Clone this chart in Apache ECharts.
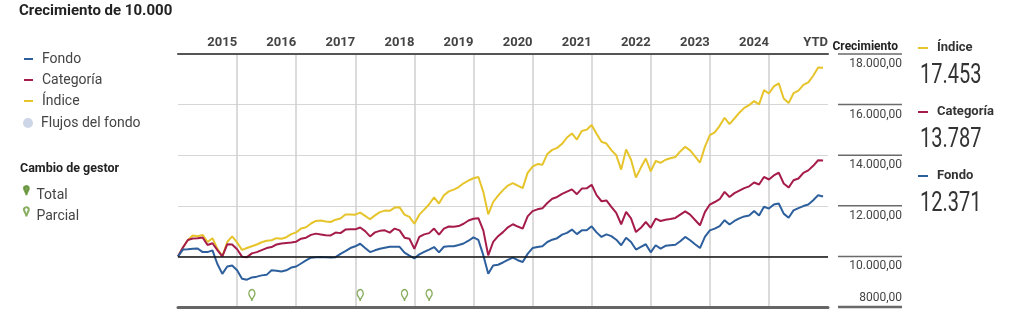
<!DOCTYPE html>
<html>
<head>
<meta charset="utf-8">
<script src="https://cdn.jsdelivr.net/npm/echarts@6/dist/echarts.min.js"></script>
<style>
  html, body { margin: 0; padding: 0; background: #fff; }
  #chart { width: 1024px; height: 327px; }
</style>
</head>
<body>
<div id="chart"></div>
<script>
// monthly growth of 10.000, month 0 = start of 2015
const yearLabels = ['2015', '2016', '2017', '2018', '2019', '2020', '2021', '2022', '2023', '2024', 'YTD'];

const fondo = [
  10000, 10270, 10280, 10300, 10310, 10170, 10170, 10240, 9700, 9310, 9600, 9640,
  9450, 9120, 9080, 9170, 9200, 9250, 9270, 9450, 9430, 9400, 9450, 9560,
  9600, 9720, 9840, 9950, 9970, 9980, 9970, 9960, 9970, 10100, 10210, 10330,
  10400, 10500, 10330, 10170, 10240, 10300, 10340, 10380, 10380, 10380, 10150, 10030,
  9920, 10080, 10180, 10270, 10370, 10160, 10380, 10400, 10400, 10450, 10510, 10620,
  10750, 10650, 10050, 9310, 9640, 9670, 9760, 9860, 9950, 9850, 9780, 10100,
  10330, 10370, 10400, 10570, 10660, 10720, 10860, 10930, 11060, 10880, 11030, 11030,
  11190, 10950, 10770, 10870, 10800, 10660, 10440, 10740, 10570, 10270, 10380, 10480,
  10160, 10440, 10310, 10420, 10440, 10460, 10600, 10770, 10640, 10480, 10330, 10770,
  11030, 11100, 11200, 11430, 11260, 11400, 11500, 11580, 11620, 11790, 11620, 11960,
  11890, 12050, 12090, 11690, 11530, 11820, 11910, 11990, 12050, 12220, 12420, 12371
];

const categoria = [
  10000, 10350, 10650, 10710, 10720, 10750, 10450, 10520, 10250, 10000, 10480, 10470,
  10280, 9990, 9970, 10120, 10170, 10250, 10330, 10370, 10470, 10510, 10530, 10550,
  10580, 10700, 10740, 10850, 10900, 10870, 10840, 10830, 10940, 10920, 11060, 11070,
  11070, 11140, 11000, 10790, 10950, 11010, 11030, 10940, 11100, 11030, 10740, 10700,
  10300, 10770, 10870, 10920, 11100, 10860, 11100, 11180, 11170, 11200, 11290, 11420,
  11490, 11510, 11030, 10040, 10570, 10800, 10960, 11150, 11270, 11180, 11100, 11580,
  11790, 11860, 11900, 12110, 12280, 12350, 12470, 12560, 12650, 12460, 12680, 12690,
  12830, 12420, 12180, 12210, 11960, 11720, 11270, 11760, 11500, 10960, 11130, 11360,
  11130, 11490, 11400, 11450, 11480, 11520, 11650, 11780, 11650, 11440, 11230, 11750,
  12050, 12150, 12260, 12550, 12350, 12500, 12600, 12700, 12770, 12920, 12840, 13140,
  13040, 13200, 13310, 12880, 12720, 13010, 13080, 13300, 13400, 13580, 13800, 13787
];

const indice = [
  10000, 10350, 10650, 10830, 10800, 10850, 10570, 10720, 10300, 10000, 10570, 10790,
  10550, 10260, 10330, 10400, 10470, 10560, 10620, 10640, 10720, 10700, 10760, 10880,
  10950, 11100, 11150, 11300, 11400, 11420, 11380, 11360, 11450, 11500, 11660, 11660,
  11650, 11730, 11600, 11470, 11620, 11750, 11810, 11800, 11930, 11940, 11650, 11560,
  11290, 11650, 11850, 12060, 12330, 12090, 12420, 12570, 12640, 12740, 12890, 13000,
  13090, 13140, 12550, 11660, 12150, 12400, 12620, 12800, 12900, 12800, 12700, 13300,
  13550, 13650, 13620, 14050, 14210, 14290, 14450, 14700, 14860, 14620, 14960, 15010,
  15190, 14850, 14530, 14460, 14200, 14000, 13430, 14230, 13820, 13120, 13510, 13870,
  13360, 13770, 13700, 13820, 13880, 13930, 14150, 14330, 14190, 13950, 13710, 14330,
  14790, 14900, 15160, 15480, 15230, 15450, 15680, 15870, 15980, 16140, 16010, 16570,
  16440, 16720, 16840, 16240, 16060, 16450, 16550, 16780, 16880, 17140, 17470, 17453
];

// months with a partial manager change
const parcialMonths = [15, 37, 46, 51];
const pinLevel = 8240;

// y scale
const Y_MIN = 8000, Y_MAX = 18000, Y_STEP = 2000;

const FONT = "'Liberation Sans Narrow', 'Roboto', sans-serif";
const C_FONDO = '#2d5f9d';
const C_CAT = '#a51c4b';
const C_IND = '#e6c42c';
const C_GREEN = '#6a9a38';

function thousands(v) {
  return String(Math.round(v)).replace(/\B(?=(\d{3})+(?!\d))/g, '.');
}
function axisFmt(v) {
  return (v >= 10000 ? thousands(v) : String(v)) + ',00';
}
const toPts = arr => arr.map((v, i) => [i, v]);
const last = arr => arr[arr.length - 1];

// big end values on the right, squeezed a bit to look condensed
function valueText(v, y) {
  return {
    type: 'text', x: 920, y: y, scaleX: 0.74,
    style: { text: thousands(v), fontSize: 27, fontFamily: FONT, fill: '#333', verticalAlign: 'top' }
  };
}
const valueTexts = [
  valueText(last(indice), 63),
  valueText(last(categoria), 127),
  valueText(last(fondo), 191)
];

const chart = echarts.init(document.getElementById('chart'));

const legendText = { fontSize: 14, lineHeight: 14, color: '#444', fontFamily: FONT };
const yRange = { type: 'value', min: Y_MIN, max: Y_MAX, interval: Y_STEP };
const GRID = { left: 178, right: 196, top: 54, bottom: 20 };

const option = {
  animation: false,
  textStyle: { fontFamily: FONT },
  title: [
    { text: 'Crecimiento de 10.000', left: 19, top: 4, padding: 0,
      textStyle: { fontSize: 15, fontWeight: 'bold', color: '#222', fontFamily: FONT } },
    { text: 'Cambio de gestor', left: 20, top: 162, padding: 0,
      textStyle: { fontSize: 12.5, fontWeight: 'bold', color: '#222', fontFamily: FONT } },
    { text: 'Crecimiento', right: 121, top: 36,
      textStyle: { fontSize: 12, fontWeight: 'bold', color: '#222', fontFamily: FONT } }
  ],
  graphic: { elements: valueTexts },
  legend: [
    { data: ['Fondo', 'Categoría', 'Índice'], orient: 'vertical', left: 24, top: 52, padding: 0,
      icon: 'rect', itemWidth: 9, itemHeight: 2, itemGap: 7, selectedMode: false,
      textStyle: Object.assign({ padding: [0, 0, 0, 4] }, legendText) },
    { data: ['Flujos del fondo'], orient: 'vertical', left: 23, top: 116, padding: 0,
      icon: 'circle', itemWidth: 10, itemHeight: 10, selectedMode: false,
      textStyle: Object.assign({ padding: [0, 0, 0, 3] }, legendText) },
    { data: ['Total', 'Parcial'], orient: 'vertical', left: 23, top: 185, padding: 0,
      icon: 'pin', itemWidth: 8, itemHeight: 10, itemGap: 4, selectedMode: false,
      textStyle: Object.assign({ padding: [0, 0, 0, 1] }, legendText) },
    { data: ['Índice', 'Categoría', 'Fondo'], orient: 'vertical', left: 918, top: 41, padding: 0,
      icon: 'rect', itemWidth: 10, itemHeight: 2, itemGap: 50, selectedMode: false,
      textStyle: { fontSize: 13, lineHeight: 14, fontWeight: 'bold', color: '#333', fontFamily: FONT, padding: [0, 0, 0, 4] } }
  ],
  grid: GRID,
  xAxis: [
    {
      type: 'value', position: 'top', min: 0, max: 132, interval: 12,
      axisLine: { show: true, onZero: false, lineStyle: { color: '#555', width: 2 } },
      axisTick: { show: false },
      axisLabel: {
        formatter: v => (v === 0 ? '' : yearLabels[v / 12 - 1]),
        align: 'right', margin: 5, fontSize: 13, fontWeight: 'bold', color: '#444', fontFamily: FONT
      },
      splitLine: { show: true, showMinLine: false, showMaxLine: false, lineStyle: { color: '#cfcfcf', width: 1.5 } }
    },
    {
      type: 'value', position: 'bottom', min: 0, max: 132,
      axisLine: { show: true, onZero: false, lineStyle: { color: '#666', width: 3 } },
      axisTick: { show: false }, axisLabel: { show: false }, splitLine: { show: false }
    }
  ],
  yAxis: [
    Object.assign({}, yRange, {
      position: 'right', offset: 10,
      axisLine: { show: false, onZero: false }, axisTick: { show: false },
      axisLabel: {
        formatter: axisFmt, showMinLabel: false, align: 'right', margin: 64, verticalAlign: 'top',
        padding: [4, 0, 0, 0], fontSize: 12, color: '#444', fontFamily: FONT
      },
      splitLine: { show: true, lineStyle: { color: '#d6d6d6', width: 1 } }
    }),
    Object.assign({}, yRange, {
      position: 'right', offset: 10,
      axisLine: { show: false, onZero: false }, axisTick: { show: false }, splitLine: { show: false },
      axisLabel: {
        formatter: v => (v === Y_MIN ? axisFmt(v) : ''), align: 'right', margin: 64, verticalAlign: 'bottom',
        padding: [0, 0, 3, 0], fontSize: 12, color: '#444', fontFamily: FONT
      }
    })
  ],
  series: [
    {
      name: 'Flujos del fondo', type: 'bar', data: [], itemStyle: { color: '#cdd6e6' }
    },
    {
      name: 'Índice', type: 'line', data: toPts(indice), showSymbol: false, symbol: 'none',
      lineStyle: { color: C_IND, width: 2 }, itemStyle: { color: C_IND },
      markLine: {
        silent: true, symbol: 'none', label: { show: false },
        lineStyle: { color: '#111', width: 1.5, type: 'solid' },
        data: [{ yAxis: 10000 }]
      }
    },
    {
      name: 'Categoría', type: 'line', data: toPts(categoria), showSymbol: false, symbol: 'none',
      lineStyle: { color: C_CAT, width: 2 }, itemStyle: { color: C_CAT }
    },
    {
      name: 'Fondo', type: 'line', data: toPts(fondo), showSymbol: false, symbol: 'none',
      lineStyle: { color: C_FONDO, width: 2 }, itemStyle: { color: C_FONDO }
    },
    {
      name: 'Total', type: 'scatter', data: [], symbol: 'pin', symbolSize: [9, 12],
      itemStyle: { color: '#5e8f2e', borderColor: '#5e8f2e', borderWidth: 1.5 }
    },
    {
      name: 'Parcial', type: 'scatter', xAxisIndex: 1, symbol: 'pin', symbolSize: [10, 13],
      data: parcialMonths.map(m => [m, pinLevel]),
      itemStyle: { color: '#fff', borderColor: C_GREEN, borderWidth: 1.5 }
    }
  ]
};

chart.setOption(option);

// short rules under "Crecimiento", placed from the y axis scale
function tickPixel(v) {
  let r = chart.convertToPixel({ xAxisIndex: 0, yAxisIndex: 0 }, [0, v]);
  let py = Array.isArray(r) ? r[1] : r;
  if (typeof py !== 'number' || !isFinite(py)) {
    const h = 327 - GRID.top - GRID.bottom;
    py = GRID.top + (Y_MAX - v) / (Y_MAX - Y_MIN) * h;
  }
  return py;
}
const rules = [];
for (let v = Y_MIN; v <= Y_MAX; v += Y_STEP) {
  const py = tickPixel(v);
  rules.push({
    type: 'line', z: 100,
    shape: { x1: 838, y1: py, x2: 902, y2: py },
    style: { stroke: '#6a6a6a', lineWidth: v === Y_MIN ? 2.5 : 1.5 }
  });
}
option.graphic = { elements: valueTexts.concat(rules) };
chart.setOption(option, true);
</script>
</body>
</html>
